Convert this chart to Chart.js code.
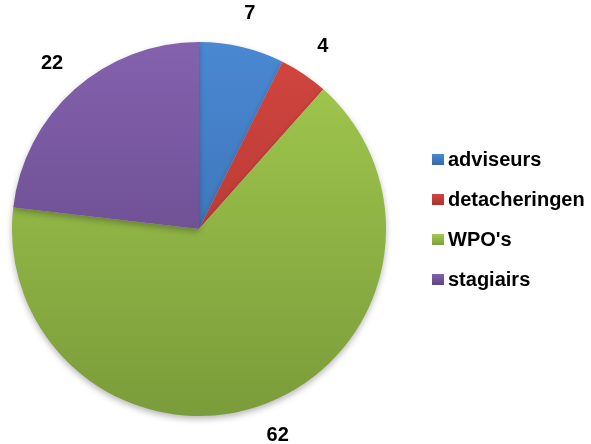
<!DOCTYPE html>
<html>
<head>
<meta charset="utf-8">
<script src="https://cdn.jsdelivr.net/npm/chart.js@4"></script>
<style>
  html, body { margin: 0; padding: 0; background: #fff; }
  #wrap { width: 591px; height: 444px; position: relative; }
</style>
</head>
<body>
<div id="wrap"><canvas id="pieChart" width="591" height="444"></canvas></div>
<script>
// chart data
const categories = ['adviseurs', 'detacheringen', "WPO's", 'stagiairs'];
const counts = [7, 4, 62, 22];
const topColors = ['#4a88d2', '#d2453f', '#a3ca4f', '#8462ae'];
const bottomColors = ['#3367a6', '#a6322f', '#7a9c3a', '#5c417e'];

const FONT = 'bold 20px "Liberation Sans", Arial, sans-serif';

// soft drop shadow under the pie
const shadowPlugin = {
    id: 'pieShadow',
    beforeDatasetsDraw(chart) {
        const ctx = chart.ctx;
        ctx.save();
        ctx.shadowColor = 'rgba(0,0,0,0.28)';
        ctx.shadowBlur = 6;
        ctx.shadowOffsetY = 3;
    },
    afterDatasetsDraw(chart) {
        chart.ctx.restore();
    }
};

// value labels outside each slice
const outsideLabels = {
    id: 'outsideLabels',
    afterDraw(chart) {
        const ctx = chart.ctx;
        const meta = chart.getDatasetMeta(0);
        ctx.save();
        ctx.font = FONT;
        ctx.fillStyle = '#000';
        ctx.textAlign = 'center';
        ctx.textBaseline = 'middle';
        meta.data.forEach((arc, i) => {
            const p = arc.getProps(['x', 'y', 'startAngle', 'endAngle', 'outerRadius'], true);
            const mid = (p.startAngle + p.endAngle) / 2;
            const r = p.outerRadius + 34;
            ctx.fillText(String(counts[i]), p.x + Math.cos(mid) * r, p.y + Math.sin(mid) * r);
        });
        ctx.restore();
    }
};

// legend drawn at the right side
const sideLegend = {
    id: 'sideLegend',
    afterDraw(chart) {
        const ctx = chart.ctx;
        ctx.save();
        ctx.font = FONT;
        ctx.textBaseline = 'middle';
        categories.forEach((name, i) => {
            const y = 160 + i * 40;
            const g = ctx.createLinearGradient(0, y - 6, 0, y + 6);
            g.addColorStop(0, topColors[i]);
            g.addColorStop(1, bottomColors[i]);
            ctx.fillStyle = g;
            ctx.fillRect(432, y - 6, 12, 11);
            ctx.fillStyle = '#000';
            ctx.fillText(name, 448, y);
        });
        ctx.restore();
    }
};

function sliceFill(context) {
    const chart = context.chart;
    const area = chart.chartArea;
    if (!area) return topColors[context.dataIndex];
    const g = chart.ctx.createLinearGradient(0, area.top, 0, area.bottom);
    g.addColorStop(0, topColors[context.dataIndex]);
    g.addColorStop(1, bottomColors[context.dataIndex]);
    return g;
}

const ctx = document.getElementById('pieChart').getContext('2d');
new Chart(ctx, {
    type: 'pie',
    data: {
        labels: categories,
        datasets: [{
            data: counts,
            backgroundColor: sliceFill,
            borderWidth: 0
        }]
    },
    options: {
        responsive: false,
        animation: false,
        layout: {
            padding: { left: 12, right: 205, top: 42, bottom: 28 }
        },
        plugins: {
            legend: { display: false },
            tooltip: { enabled: false }
        }
    },
    plugins: [shadowPlugin, outsideLabels, sideLegend]
});
</script>
</body>
</html>
